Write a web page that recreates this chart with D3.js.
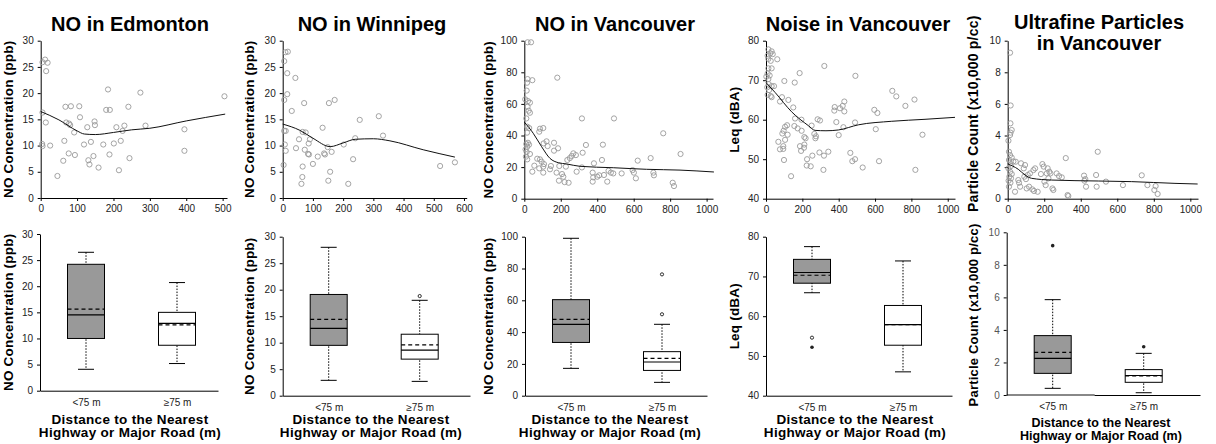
<!DOCTYPE html>
<html>
<head>
<meta charset="utf-8">
<script src="https://cdn.jsdelivr.net/npm/d3@7"></script>
<style>
  body { margin: 0; background: #fff; }
  text { font-family: Arial, "Liberation Sans", sans-serif; }
</style>
</head>
<body>
<svg id="chart" width="1216" height="444"></svg>
<script>
// categories for the box plots
const boxCats = ["<75 m", "\u226575 m"];

// scatter points [distance (m), value]
const edmontonPts = [[12,26.4],[5,25.9],[19,25.8],[15,24.2],[5,16.3],[14,14.4],[4,10.3],[5,9.9],[26,10.0],
  [46,4.2],[62,7.1],[65,10.9],[68,17.4],[83,17.5],[70,14.4],[78,14.2],[81,13.9],[77,8.5],[92,12.5],[94,8.2],
  [106,17.5],[108,15.4],[119,10.2],[128,13.5],[131,7.2],[134,6.4],[138,10.7],[145,8.0],[148,14.6],[149,13.9],
  [159,5.8],[172,10.2],[180,16.8],[185,20.7],[190,16.8],[189,8.3],[201,10.4],[208,13.5],[215,5.3],[220,10.9],
  [225,12.8],[230,13.8],[241,17.4],[244,7.6],[274,20.1],[288,13.8],[395,13.1],[395,9.0],[505,19.4]];
const edmontonFit = [[0,16.5],[50,14.9],[100,12.8],[120,12.2],[150,12.1],[200,12.5],[250,13.0],[300,13.3],[400,14.7],[507,16.0]];

const winnipegPts = [[9,27.8],[17,27.9],[5,26.1],[15,23.8],[42,22.9],[15,19.8],[5,18.7],[30,16.6],[71,18.1],
  [153,18.1],[172,18.7],[255,14.9],[318,15.6],[332,11.9],[5,12.8],[10,12.8],[66,12.6],[76,12.5],[132,13.4],
  [7,10.2],[10,9.0],[54,11.2],[44,9.5],[90,11.2],[86,10.4],[73,9.2],[84,8.4],[87,8.3],[116,7.9],[137,8.5],
  [140,8.3],[149,9.7],[162,8.8],[202,10.2],[240,11.4],[233,7.4],[3,6.3],[66,6.0],[100,6.5],[65,4.0],[62,2.7],
  [157,5.0],[151,3.3],[217,2.7],[521,6.1],[570,6.8]];
const winnipegFit = [[0,14.1],[57,12.9],[100,11.4],[157,9.8],[200,10.5],[240,11.2],[300,11.3],[355,10.9],[465,9.2],[570,7.8]];

const vanNoPts = [[18,99],[37,99],[18,75.7],[44,75],[15,73.4],[13,68.4],[5,62.9],[20,61.8],[31,60.8],[18,58.2],
  [24,55.7],[31,54.4],[11,50.8],[16,45.6],[27,44.7],[15,41.8],[20,35.4],[11,34.6],[26,34.2],[16,32.9],[7,31.2],
  [13,29.5],[9,26.6],[16,24.9],[44,17.1],[31,28.3],[55,20.9],[82,19.2],[71,25.3],[86,24.9],[95,23.4],[86,44.3],
  [104,44.7],[82,42.4],[106,35.0],[108,21.9],[104,20.3],[104,16.5],[122,36.3],[128,33.3],[146,20.7],[141,18.6],
  [163,35.4],[163,30.4],[177,16.5],[181,76.6],[185,31.9],[192,20.7],[190,11.4],[207,15.6],[214,13.9],[221,10.5],
  [228,20.3],[236,24.5],[243,10.1],[250,25.7],[260,27.0],[269,28.7],[283,27.6],[287,17.1],[316,50.8],[320,29.1],
  [316,19.8],[338,34.0],[375,16.5],[378,13.5],[375,10.8],[382,22.4],[400,13.9],[411,14.8],[426,24.5],[431,34.2],
  [437,15.0],[455,10.8],[462,17.7],[475,16.5],[492,50.8],[488,16.0],[534,16.0],[594,18.1],[601,16.5],[612,12.9],
  [622,24.1],[693,25.7],[708,16.5],[711,14.8],[762,41.4],[814,10.1],[821,8.0],[857,28.3]];
const vanNoFit = [[0,48.5],[49,41.4],[95,32.9],[141,25.5],[186,22.8],[232,22.0],[305,20.5],[488,19.6],[671,18.6],[854,18.1],[1040,16.9]];

const noisePts = [[13,77.8],[31,77.3],[24,76.8],[9,76.2],[37,76.6],[13,75.4],[26,74.9],[62,75.3],[13,73.0],[31,73.0],
  [9,71.7],[20,71.2],[2,70.9],[13,70.3],[101,69.8],[158,69.4],[185,71.8],[15,69.0],[7,68.2],[31,68.5],[44,68.5],
  [17,67.5],[9,66.3],[26,66.0],[31,65.7],[88,65.7],[77,64.6],[123,65.0],[150,63.1],[160,60.3],[195,60.0],
  [156,58.4],[174,57.8],[196,57.2],[105,58.2],[116,58.6],[97,57.2],[68,54.4],[90,56.5],[119,56.2],[105,54.9],
  [95,53.3],[77,52.5],[95,52.6],[187,53.3],[193,52.1],[209,52.9],[211,55.6],[218,55.3],[211,53.7],[99,49.8],
  [138,45.7],[226,50.0],[224,48.4],[246,48.2],[255,50.9],[266,56.4],[275,55.8],[272,55.3],[251,58.5],[284,60.1],
  [297,59.8],[294,51.7],[321,73.6],[319,50.9],[343,51.9],[316,47.3],[378,63.2],[376,62.3],[387,59.4],[400,56.1],
  [407,62.9],[422,63.5],[431,64.6],[431,62.1],[426,58.1],[492,71.1],[490,59.3],[464,51.6],[475,49.5],[490,50.0],
  [532,47.9],[596,62.5],[613,61.7],[604,57.6],[622,49.5],[695,67.3],[717,65.9],[767,63.5],[817,65.1],[822,47.3],
  [861,56.2]];
const noiseFit = [[0,69.4],[50,66.9],[141,62.0],[233,58.5],[270,57.3],[330,57.2],[398,57.4],[508,58.7],[692,59.6],[875,60.1],[1040,60.6]];

const ufpPts = [[13,9.24],[16,5.9],[15,4.77],[22,4.35],[16,4.18],[13,4.03],[4,3.67],[7,2.97],[13,2.76],[22,2.6],
  [31,2.36],[44,2.34],[7,2.45],[13,2.24],[18,2.07],[4,1.92],[13,1.71],[22,1.56],[9,1.39],[18,1.29],[5,1.14],
  [15,1.01],[7,0.76],[40,0.44],[58,1.18],[62,1.01],[68,0.76],[73,2.24],[88,1.92],[95,2.13],[91,1.39],[100,1.24],
  [110,1.50],[122,1.60],[104,0.65],[117,0.76],[135,0.59],[141,1.81],[150,1.92],[144,0.49],[164,0.44],[182,1.56],
  [190,2.19],[197,2.03],[201,1.08],[208,0.86],[214,1.60],[219,1.92],[223,1.29],[228,1.71],[234,1.60],[245,0.65],
  [250,0.55],[268,1.60],[281,1.43],[296,1.35],[318,2.57],[328,0.23],[332,0.17],[418,1.46],[420,1.14],[425,1.24],
  [429,0.76],[484,1.50],[493,2.97],[487,0.76],[538,1.08],[631,0.86],[734,1.48],[765,0.86],[803,0.55],[810,0.80],
  [821,0.30]];
const ufpFit = [[0,2.2],[58,1.86],[95,1.5],[131,1.29],[241,1.18],[496,1.12],[679,1.08],[916,0.97],[1040,0.93]];

// box plot summaries: lo whisker, q1, median, mean, q3, hi whisker, outliers (open / filled)
const edmontonBox = [
  {cat: boxCats[0], lo: 4.1, q1: 10.0, med: 14.5, mean: 15.6, q3: 24.2, hi: 26.5, open: [], dots: []},
  {cat: boxCats[1], lo: 5.2, q1: 8.7, med: 12.9, mean: 12.6, q3: 15.0, hi: 20.7, open: [], dots: []}];
const winnipegBox = [
  {cat: boxCats[0], lo: 2.9, q1: 9.5, med: 12.7, mean: 14.4, q3: 19.1, hi: 28.0, open: [], dots: []},
  {cat: boxCats[1], lo: 2.7, q1: 6.9, med: 8.6, mean: 9.6, q3: 11.6, hi: 18.0, open: [18.8], dots: []}];
const vanNoBox = [
  {cat: boxCats[0], lo: 17.2, q1: 33.5, med: 44.9, mean: 48.0, q3: 60.4, hi: 99, open: [], dots: []},
  {cat: boxCats[1], lo: 8.4, q1: 15.9, med: 21.2, mean: 23.5, q3: 27.7, hi: 44.9, open: [76.3, 51.2], dots: []}];
const noiseBox = [
  {cat: boxCats[0], lo: 65.9, q1: 68.3, med: 71.0, mean: 70.3, q3: 74.3, hi: 77.5, open: [54.6], dots: [52.2]},
  {cat: boxCats[1], lo: 46.0, q1: 52.7, med: 57.9, mean: 57.9, q3: 62.7, hi: 73.9, open: [], dots: []}];
const ufpBox = [
  {cat: boxCats[0], lo: 0.41, q1: 1.33, med: 2.25, mean: 2.62, q3: 3.65, hi: 5.86, open: [], dots: [9.18]},
  {cat: boxCats[1], lo: 0.14, q1: 0.78, med: 1.2, mean: 1.17, q3: 1.56, hi: 2.56, open: [], dots: [2.97]}];

const ticks5 = [0, 5, 10, 15, 20, 25, 30];
const ticks100 = [0, 20, 40, 60, 80, 100];
const ticksDb = [40, 50, 60, 70, 80];
const ticksUfp = [0, 2, 4, 6, 8, 10];
const xTicks500 = [0, 100, 200, 300, 400, 500];
const xTicks600 = [0, 100, 200, 300, 400, 500, 600];
const xTicks1000 = [0, 200, 400, 600, 800, 1000];

const noLabel = "NO Concentration (ppb)";
const ufpLabel = "Particle Count (x10,000 p/cc)";

const panels = [
  {title: ["NO in Edmonton"], tx: 130, ylab: noLabel, labX: 13, pts: edmontonPts, fit: edmontonFit, box: edmontonBox,
   sc: {x0: 40.7, x1: 227, xMax: 512, xTicks: xTicks500, yDom: [0, 30], yTicks: ticks5, yTop: 40.7, yBot: 198},
   bx: {x0: 40, x1: 218, yTop: 234, yBot: 390.7, yDom: [0, 30], yTicks: ticks5}, bt: 130},
  {title: ["NO in Winnipeg"], tx: 372, ylab: noLabel, labX: 254, pts: winnipegPts, fit: winnipegFit, box: winnipegBox,
   sc: {x0: 282.7, x1: 466.7, xMax: 609, xTicks: xTicks600, yDom: [0, 30], yTicks: ticks5, yTop: 40.7, yBot: 198},
   bx: {x0: 282.7, x1: 470, yTop: 236.7, yBot: 395.7, yDom: [0, 30], yTicks: ticks5}, bt: 371},
  {title: ["NO in Vancouver"], tx: 615, ylab: noLabel, labX: 493, pts: vanNoPts, fit: vanNoFit, box: vanNoBox,
   sc: {x0: 524.3, x1: 713, xMax: 1035, xTicks: xTicks1000, yDom: [0, 100], yTicks: ticks100, yTop: 40.7, yBot: 198.7},
   bx: {x0: 525, x1: 707, yTop: 236.7, yBot: 395.7, yDom: [0, 100], yTicks: ticks100}, bt: 610},
  {title: ["Noise in Vancouver"], tx: 858, ylab: "Leq (dBA)", labX: 739, pts: noisePts, fit: noiseFit, box: noiseBox,
   sc: {x0: 766, x1: 955, xMax: 1040, xTicks: xTicks1000, yDom: [40, 80], yTicks: ticksDb, yTop: 40.7, yBot: 198.7},
   bx: {x0: 766, x1: 952, yTop: 236.7, yBot: 395.7, yDom: [40, 80], yTicks: ticksDb}, bt: 855},
  {title: ["Ultrafine Particles", "in Vancouver"], tx: 1099, ylab: ufpLabel, labX: 978, pts: ufpPts, fit: ufpFit, box: ufpBox,
   sc: {x0: 1007.7, x1: 1198, xMax: 1042, xTicks: xTicks1000, yDom: [0, 10], yTicks: ticksUfp, yTop: 40.7, yBot: 198.7},
   bx: {x0: 1006.7, x1: 1200, yTop: 232.3, yBot: 395, yDom: [0, 10], yTicks: ticksUfp}, bt: 1101, ufp: true}
];

const svg = d3.select("#chart");
const plain = d3.format("d");

function styleAxis(g, size) {
  g.attr("font-family", "Arial, 'Liberation Sans', sans-serif").attr("font-size", size);
  g.selectAll("text").attr("fill", "#222");
  g.selectAll("path, line").attr("stroke", "#000").attr("stroke-width", 1);
}

function yLabel(x, y, txt, size) {
  svg.append("text")
    .attr("transform", `translate(${x},${y}) rotate(-90)`)
    .attr("text-anchor", "middle")
    .attr("font-weight", "bold")
    .attr("font-size", size)
    .attr("letter-spacing", 0.2)
    .text(txt);
}

panels.forEach(p => {
  // title
  p.title.forEach((t, i) => {
    svg.append("text").attr("x", p.tx).attr("y", p.title.length > 1 ? 29 + i * 20.5 : 30.5)
      .attr("text-anchor", "middle").attr("font-weight", "bold").attr("font-size", 20).text(t);
  });

  // ----- scatter with smoothed line
  const s = p.sc;
  const x = d3.scaleLinear().domain([0, s.xMax]).range([s.x0, s.x1]);
  const y = d3.scaleLinear().domain(s.yDom).range([s.yBot, s.yTop]);

  svg.append("g").attr("transform", `translate(0,${s.yBot})`)
    .call(d3.axisBottom(x).tickValues(s.xTicks).tickFormat(plain).tickSize(3).tickSizeOuter(0).tickPadding(4))
    .call(g => styleAxis(g, 10));
  svg.append("g").attr("transform", `translate(${s.x0},0)`)
    .call(d3.axisLeft(y).tickValues(s.yTicks).tickFormat(plain).tickSize(3).tickSizeOuter(0).tickPadding(4))
    .call(g => styleAxis(g, 10));

  svg.append("g").selectAll("circle").data(p.pts).enter().append("circle")
    .attr("cx", d => x(d[0])).attr("cy", d => y(d[1])).attr("r", 2.6)
    .attr("fill", "none").attr("stroke", "#9a9a9a").attr("stroke-width", 0.9);

  svg.append("path").datum(p.fit)
    .attr("d", d3.line().x(d => x(d[0])).y(d => y(d[1])).curve(d3.curveMonotoneX))
    .attr("fill", "none").attr("stroke", "#111").attr("stroke-width", 1);

  yLabel(p.labX, (s.yTop + s.yBot) / 2 + (p.ufp ? -6 : 0), p.ylab, p.ufp ? 14 : 13.5);

  // ----- box plot
  const b = p.bx;
  const xb = d3.scalePoint().domain(boxCats).range([b.x0 + 46, b.x0 + 137]);
  const yb = d3.scaleLinear().domain(b.yDom).range([b.yBot, b.yTop]);
  const bw = 37, cap = 16;

  svg.append("g").attr("transform", `translate(0,${b.yBot})`)
    .call(d3.axisBottom(d3.scaleLinear().range([b.x0, b.x1])).tickValues([]).tickSizeOuter(0))
    .call(g => styleAxis(g, 10));
  if (p.ufp) {
    svg.append("line").attr("x1", b.x0).attr("x2", b.x0 + 88).attr("y1", b.yBot).attr("y2", b.yBot)
      .attr("stroke", "#888").attr("stroke-width", 2);
  }
  svg.append("g").attr("transform", `translate(0,${b.yBot})`)
    .call(d3.axisBottom(xb).tickSize(0).tickPadding(8))
    .call(g => { styleAxis(g, 10); g.select(".domain").remove(); });
  svg.append("g").attr("transform", `translate(${b.x0},0)`)
    .call(d3.axisLeft(yb).tickValues(b.yTicks).tickFormat(plain).tickSize(3).tickSizeOuter(0).tickPadding(4))
    .call(g => { styleAxis(g, 10); if (p.ufp) g.selectAll("text").attr("fill", "#555"); });

  const grp = svg.append("g").selectAll("g").data(p.box).enter().append("g");
  // whiskers (dotted) and caps
  grp.append("line").attr("x1", d => xb(d.cat)).attr("x2", d => xb(d.cat))
    .attr("y1", d => yb(d.hi)).attr("y2", d => yb(d.lo))
    .attr("stroke", "#000").attr("stroke-dasharray", "1.5,1.5");
  ["hi", "lo"].forEach(k => {
    grp.append("line").attr("x1", d => xb(d.cat) - cap / 2).attr("x2", d => xb(d.cat) + cap / 2)
      .attr("y1", d => yb(d[k])).attr("y2", d => yb(d[k])).attr("stroke", "#000");
  });
  grp.append("rect").attr("x", d => xb(d.cat) - bw / 2).attr("width", bw)
    .attr("y", d => yb(d.q3)).attr("height", d => yb(d.q1) - yb(d.q3))
    .attr("fill", (d, i) => i === 0 ? "#999" : "#fff").attr("stroke", "#000");
  grp.append("line").attr("x1", d => xb(d.cat) - bw / 2).attr("x2", d => xb(d.cat) + bw / 2)
    .attr("y1", d => yb(d.mean)).attr("y2", d => yb(d.mean))
    .attr("stroke", "#000").attr("stroke-width", 1.2).attr("stroke-dasharray", "4,3");
  grp.append("line").attr("x1", d => xb(d.cat) - bw / 2).attr("x2", d => xb(d.cat) + bw / 2)
    .attr("y1", d => yb(d.med)).attr("y2", d => yb(d.med)).attr("stroke", "#000").attr("stroke-width", 1.2);
  grp.each(function (d) {
    const g = d3.select(this);
    g.selectAll("circle.o").data(d.open).enter().append("circle")
      .attr("cx", xb(d.cat)).attr("cy", v => yb(v)).attr("r", 1.6)
      .attr("fill", "#fff").attr("stroke", "#000").attr("stroke-width", 0.8);
    g.selectAll("circle.f").data(d.dots).enter().append("circle")
      .attr("cx", xb(d.cat)).attr("cy", v => yb(v)).attr("r", 1.8).attr("fill", "#222");
  });

  yLabel(p.labX, p.ufp ? 315 : (b.yTop + b.yBot) / 2, p.ylab, p.ufp ? 13 : 13.5);

  // x title
  ["Distance to the Nearest", "Highway or Major Road (m)"].forEach((t, i) => {
    svg.append("text").attr("x", p.bt).attr("y", (p.ufp ? 427 : 424) + i * 13)
      .attr("text-anchor", "middle").attr("font-weight", "bold")
      .attr("font-size", p.ufp ? 12.5 : 13.5).attr("letter-spacing", p.ufp ? 0 : 0.3).text(t);
  });
});
</script>
</body>
</html>
